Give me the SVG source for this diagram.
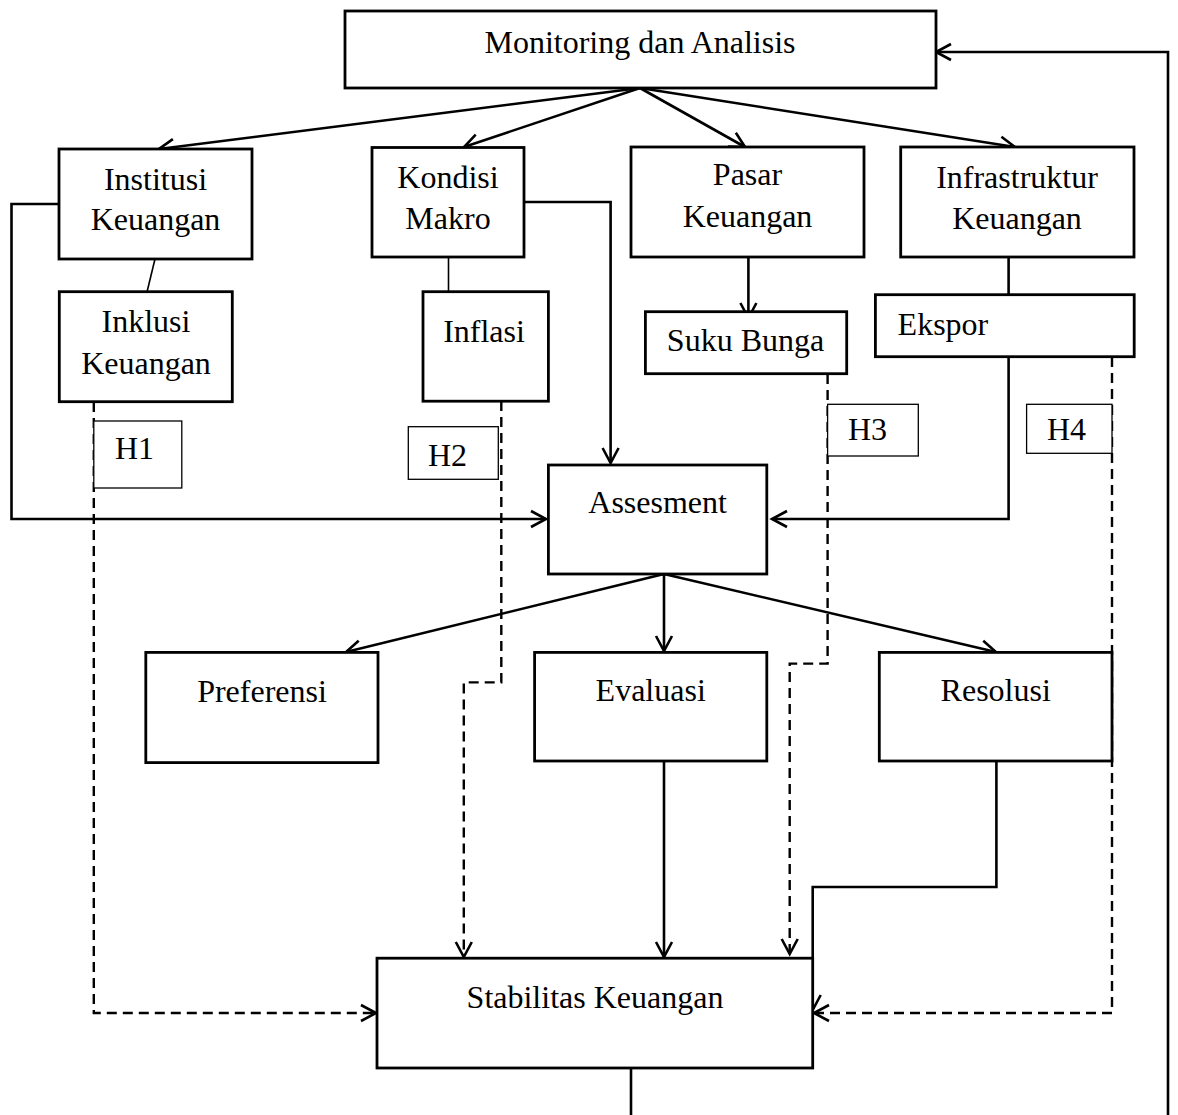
<svg xmlns="http://www.w3.org/2000/svg" width="1178" height="1115" viewBox="0 0 1178 1115">
<style>
.box{fill:#fff;stroke:#000;stroke-width:2.8}
.hbox{fill:#fff;stroke:#000;stroke-width:1.3}
.t{font-family:"Liberation Serif","Times New Roman",serif;font-size:32px;fill:#000}
.c{text-anchor:middle}
.ln{fill:none;stroke:#000;stroke-width:2.6}
.thin{fill:none;stroke:#000;stroke-width:1.6}
.dash{fill:none;stroke:#000;stroke-width:2.4;stroke-dasharray:10 6}
</style>
<defs>
<marker id="arr" markerUnits="userSpaceOnUse" markerWidth="40" markerHeight="40" viewBox="-20 -20 40 40" refX="0" refY="0" orient="auto">
<path d="M -15 -8 L 0 0 L -15 8" fill="none" stroke="#000" stroke-width="2.6"/>
</marker>
</defs>
<rect width="1178" height="1115" fill="#fff"/>

<g id="connectors">
<path class="ln" d="M640 88 L159 149" marker-end="url(#arr)"/>
<path class="ln" d="M640 88 L464 147" marker-end="url(#arr)"/>
<path class="ln" d="M640 88 L745 147" marker-end="url(#arr)"/>
<path class="ln" d="M640 88 L1015 147" marker-end="url(#arr)"/>
<path class="thin" d="M155 259 L147 292"/>
<path class="thin" d="M448.5 257 L448.5 295"/>
<path class="ln" d="M59 204 L11.5 204 L11.5 519 L546 519" marker-end="url(#arr)"/>
<path class="ln" d="M524 202 L610.6 202 L610.6 463" marker-end="url(#arr)"/>
<path class="ln" d="M748.4 257 L748.4 318" marker-end="url(#arr)"/>
<path class="ln" d="M1008.6 257 L1008.6 295"/>
<path class="ln" d="M1008.6 357 L1008.6 519 L772 519" marker-end="url(#arr)"/>
<path class="ln" d="M664 574 L346 652" marker-end="url(#arr)"/>
<path class="ln" d="M664 574 L664 651" marker-end="url(#arr)"/>
<path class="ln" d="M664 574 L996 652" marker-end="url(#arr)"/>
<path class="dash" d="M93.8 402 L93.8 1013 L376 1013" marker-end="url(#arr)"/>
<path class="dash" d="M501.3 401 L501.3 682.4 L463.8 682.4 L463.8 957" marker-end="url(#arr)"/>
<path class="dash" d="M827.6 374 L827.6 663.6 L789.7 663.6 L789.7 954" marker-end="url(#arr)"/>
<path class="dash" d="M1112 357 L1112 1013 L814 1013" marker-end="url(#arr)"/>
<path class="ln" d="M664 761 L664 957" marker-end="url(#arr)"/>
<path class="ln" d="M996.4 761 L996.4 887 L812.7 887 L812.7 1010" marker-end="url(#arr)"/>
<path class="ln" d="M631 1068 L631 1115"/>
<path class="ln" d="M1168 1115 L1168 52 L936 52" marker-end="url(#arr)"/>
</g>

<g id="monitoring"><rect class="box" x="345" y="11" width="591" height="77"/><text class="t c" x="640" y="53">Monitoring dan Analisis</text></g>
<g id="institusi"><rect class="box" x="59" y="149" width="193" height="110"/><text class="t c" x="155.5" y="190">Institusi</text><text class="t c" x="155.5" y="230">Keuangan</text></g>
<g id="kondisi"><rect class="box" x="372" y="147.5" width="152" height="109.5"/><text class="t c" x="448" y="188">Kondisi</text><text class="t c" x="448" y="229">Makro</text></g>
<g id="pasar"><rect class="box" x="631" y="147" width="233" height="110"/><text class="t c" x="747.5" y="185">Pasar</text><text class="t c" x="747.5" y="227">Keuangan</text></g>
<g id="infrastruktur"><rect class="box" x="900.7" y="147" width="233.3" height="110"/><text class="t c" x="1017" y="188">Infrastruktur</text><text class="t c" x="1017" y="229">Keuangan</text></g>
<g id="inklusi"><rect class="box" x="59.3" y="291.7" width="173" height="110"/><text class="t c" x="146" y="332">Inklusi</text><text class="t c" x="146" y="374">Keuangan</text></g>
<g id="inflasi"><rect class="box" x="423" y="291.7" width="125.4" height="109.5"/><text class="t c" x="484" y="342">Inflasi</text></g>
<g id="suku-bunga"><rect class="box" x="645.4" y="311.7" width="201.3" height="62"/><text class="t c" x="745.5" y="351">Suku Bunga</text></g>
<g id="ekspor"><rect class="box" x="875.4" y="294.7" width="258.8" height="62"/><text class="t" x="897.6" y="335">Ekspor</text></g>
<g id="h1"><rect class="hbox" x="93.8" y="421" width="88" height="67"/><text class="t" x="115" y="459">H1</text></g>
<g id="h2"><rect class="hbox" x="408.3" y="426.7" width="90" height="52.6"/><text class="t" x="428" y="466">H2</text></g>
<g id="h3"><rect class="hbox" x="827.6" y="404.3" width="90.7" height="51.7"/><text class="t" x="848" y="440">H3</text></g>
<g id="h4"><rect class="hbox" x="1026.6" y="404.3" width="85.4" height="49"/><text class="t" x="1047" y="440">H4</text></g>
<g id="assesment"><rect class="box" x="548.4" y="465" width="218.4" height="109"/><text class="t c" x="657.6" y="513">Assesment</text></g>
<g id="preferensi"><rect class="box" x="145.8" y="652.4" width="232.2" height="110.2"/><text class="t c" x="262" y="702">Preferensi</text></g>
<g id="evaluasi"><rect class="box" x="534.6" y="652.4" width="232.2" height="108.6"/><text class="t c" x="650.7" y="701">Evaluasi</text></g>
<g id="resolusi"><rect class="box" x="879.3" y="652.4" width="232.7" height="108.6"/><text class="t c" x="995.7" y="701">Resolusi</text></g>
<g id="stabilitas"><rect class="box" x="377" y="958.2" width="435.7" height="109.8"/><text class="t c" x="595" y="1008">Stabilitas Keuangan</text></g>
</svg>
